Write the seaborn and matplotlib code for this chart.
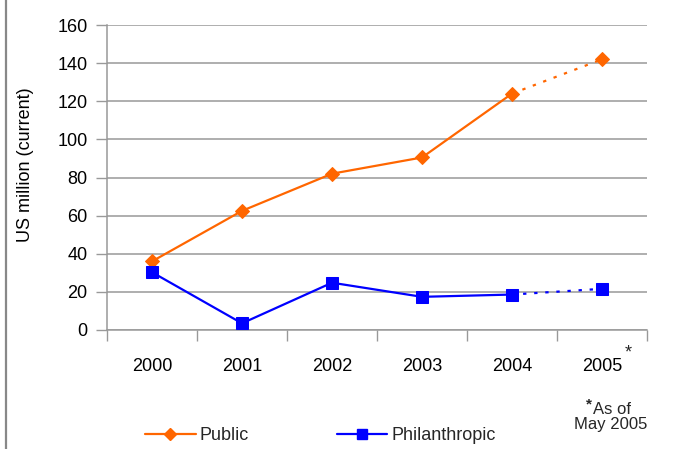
import matplotlib
matplotlib.use("Agg")
import matplotlib.pyplot as plt
import seaborn as sns
import pandas as pd
from matplotlib.lines import Line2D
from matplotlib.ticker import FixedLocator

years = ["2000", "2001", "2002", "2003", "2004", "2005"]
public = [36, 62.5, 82, 90.5, 124, 142]
philanthropic = [30.3, 3.5, 24.8, 17.4, 18.6, 21.6]
yticks = [0, 20, 40, 60, 80, 100, 120, 140, 160]
ylabel = "US million (current)"
note1 = "As of"
note2 = "May 2005"

sns.set_theme(style="white")
plt.rcParams['font.family'] = ['Liberation Sans', 'DejaVu Sans']

ORANGE = "#FF6600"
BLUE = "#0000FF"
GRID = "#999999"

idx = list(range(len(years)))
df = pd.DataFrame({"idx": idx, "Public": public, "Philanthropic": philanthropic})

fig = plt.figure(figsize=(6.91, 4.49), dpi=100)
ax = fig.add_axes([107/691, 1-330/449, 540/691, 305/449])

series = [("Public", ORANGE, "D", 7.5), ("Philanthropic", BLUE, "s", 8.5)]
for name, col, mk, ms in series:
    solid = df[df["idx"] <= 4]
    dotted = df[df["idx"] >= 4]
    sns.lineplot(data=dotted, x="idx", y=name, ax=ax, color=col, linewidth=1.6,
                 linestyle=(0, (1.5, 3.5)), zorder=3)
    sns.lineplot(data=solid, x="idx", y=name, ax=ax, color=col, linewidth=1.6,
                 marker=mk, markersize=ms, markeredgecolor=col, zorder=4)
    sns.lineplot(data=dotted.iloc[1:], x="idx", y=name, ax=ax, color=col, linewidth=0,
                 marker=mk, markersize=ms, markeredgecolor=col, zorder=4)

ax.set_xlim(-0.5, len(years) - 0.5)
ax.set_ylim(0, 160)
ax.set_yticks(yticks)
ax.set_yticklabels([str(v) for v in yticks], fontsize=13, color="black")
ax.set_xticks(idx)
ax.set_xticklabels(years, fontsize=13, color="black")
ax.xaxis.set_minor_locator(FixedLocator([i - 0.5 for i in range(len(years) + 1)]))
ax.tick_params(axis="x", which="major", length=0, pad=20.5)
ax.tick_params(axis="x", which="minor", length=8, width=1, color=GRID, direction="out", bottom=True)
ax.tick_params(axis="y", which="major", length=8, width=1, color=GRID, direction="out", pad=6, left=True)
ax.set_xlabel("")
ax.set_ylabel(ylabel, fontsize=13, color="black")
ax.yaxis.set_label_coords(-0.135, 0.543)

ax.grid(False)
for v in yticks:
    ax.axhline(v, color=GRID, linewidth=1.1, zorder=1)
for s in ["top", "right"]:
    ax.spines[s].set_visible(False)
for s in ["left", "bottom"]:
    ax.spines[s].set_color(GRID)
    ax.spines[s].set_linewidth(1.1)

# asterisk on 2005 label
ax.annotate("*", xy=(5, 0), xycoords="data", xytext=(26, -23), textcoords="offset pixels",
            ha="center", va="center", fontsize=13, annotation_clip=False)
# footnote
fig.text(589/691, 1-404/449, "*", ha="center", va="center", fontsize=11, fontweight="bold")
fig.text(593/691, 1-409/449, note1, ha="left", va="center", fontsize=12)
fig.text(611/691, 1-425/449, note2, ha="center", va="center", fontsize=12)

# legend
handles = [Line2D([0], [0], color=ORANGE, lw=1.6, marker="D", markersize=6, markeredgecolor=ORANGE),
           Line2D([0], [0], color=BLUE, lw=1.6, marker="s", markersize=7, markeredgecolor=BLUE)]
leg = fig.legend(handles, ["Public", "Philanthropic"], loc="center left",
                 bbox_to_anchor=(145/691, 1-436/449), ncol=2, frameon=False,
                 fontsize=13, handlelength=2.8, handletextpad=0.2, columnspacing=4.9,
                 borderpad=0, borderaxespad=0)

# left border
fig.add_artist(Line2D([6/691, 6/691], [0, 1], transform=fig.transFigure, color="#888888", lw=1.6))

fig.savefig("out.png", dpi=100)
